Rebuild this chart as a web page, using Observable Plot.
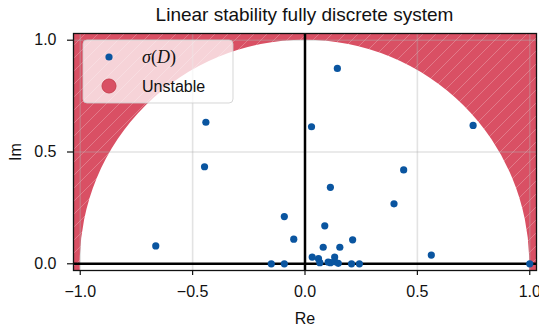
<!DOCTYPE html>
<html><head><meta charset="utf-8">
<script src="https://cdn.jsdelivr.net/npm/d3@7"></script>
<script src="https://cdn.jsdelivr.net/npm/@observablehq/plot@0.6"></script>
<style>
body{margin:0;background:#fff;font-family:"Liberation Sans",Arial,sans-serif;}
#title{height:28px;width:463px;padding-left:73px;text-align:center;font-size:19px;line-height:30px;color:#111;}
</style></head><body>
<div id="title">Linear stability fully discrete system</div>
<div id="chart"></div>
<script>
// Eigenvalues sigma(D): real and imaginary parts
const reVals = [-0.664, -0.447, -0.441, -0.150, -0.092, -0.092, -0.050, 0.029, 0.144, 0.113,
                0.088, 0.081, 0.155, 0.212, 0.396, 0.439, 0.748, 0.562, 1.000, 0.032,
                0.060, 0.066, 0.103, 0.113, 0.132, 0.132, 0.148, 0.207, 0.242];
const imVals = [0.080, 0.434, 0.633, 0.000, 0.000, 0.211, 0.110, 0.613, 0.874, 0.342,
                0.170, 0.074, 0.074, 0.107, 0.268, 0.420, 0.619, 0.039, 0.000, 0.030,
                0.023, 0.005, 0.008, 0.005, 0.030, 0.010, 0.002, 0.000, 0.000];
const xTicks = [-1, -0.5, 0, 0.5, 1];
const yTicks = [0, 0.5, 1];
const legendLabels = ["σ(D)", "Unstable"];

const RED = "#d95064";
const BLUE = "#0a55a0";
const fmt = d => d.toFixed(1).replace("-", "\u2212");

function unstableRegion(index, scales, values, dims) {
  const {x, y} = scales;
  const g = d3.create("svg:g");
  const defs = g.append("defs");
  const pat = defs.append("pattern")
    .attr("id", "hatch").attr("patternUnits", "userSpaceOnUse")
    .attr("width", 13).attr("height", 13);
  pat.append("rect").attr("width", 13).attr("height", 13).attr("fill", RED);
  pat.append("path").attr("d", "M-1,14 L14,-1 M-4,4 L4,-4 M9,17 L17,9")
    .attr("stroke", "white").attr("stroke-opacity", 0.3).attr("stroke-width", 0.8);
  const x0 = dims.marginLeft, x1 = dims.width - dims.marginRight;
  const y0 = dims.marginTop, y1 = dims.height - dims.marginBottom;
  defs.append("clipPath").attr("id", "frameclip").append("rect")
    .attr("x", x0).attr("y", y0).attr("width", x1 - x0).attr("height", y1 - y0);
  const cx = x(0), cy = y(0), rx = x(1) - x(0), ry = y(0) - y(1);
  const d = `M${x0},${y0}H${x1}V${y1}H${x0}Z M${cx - rx},${cy} A${rx},${ry} 0 0 1 ${cx + rx},${cy} A${rx},${ry} 0 0 1 ${cx - rx},${cy}Z`;
  g.append("path").attr("d", d).attr("fill", "url(#hatch)").attr("fill-rule", "evenodd")
    .attr("clip-path", "url(#frameclip)");
  return g.node();
}

function legend(index, scales, values, dims) {
  const g = d3.create("svg:g").attr("text-anchor", "start");
  const lx = dims.marginLeft + 10, ly = dims.marginTop + 7;
  g.append("rect").attr("x", lx).attr("y", ly).attr("width", 150).attr("height", 63)
    .attr("rx", 4).attr("fill", "white").attr("fill-opacity", 0.75)
    .attr("stroke", "#cccccc").attr("stroke-opacity", 0.8);
  g.append("circle").attr("cx", lx + 26).attr("cy", ly + 17).attr("r", 3.6).attr("fill", BLUE);
  g.append("circle").attr("cx", lx + 26).attr("cy", ly + 46).attr("r", 7)
    .attr("fill", RED).attr("stroke", "#c8404f").attr("stroke-width", 1);
  const t1 = g.append("text").attr("x", lx + 59).attr("y", ly + 17).attr("dy", "0.35em")
    .attr("font-size", 18).attr("font-family", "'Liberation Serif', serif").attr("fill", "#111");
  const parts = legendLabels[0].match(/^(.)(\()(.)(\))$/);
  t1.append("tspan").attr("font-style", "italic").text(parts[1]);
  t1.append("tspan").text(parts[2]);
  t1.append("tspan").attr("font-style", "italic").text(parts[3]);
  t1.append("tspan").text(parts[4]);
  g.append("text").attr("x", lx + 59).attr("y", ly + 46).attr("dy", "0.35em")
    .attr("font-size", 16).attr("fill", "#111").text(legendLabels[1]);
  return g.node();
}

const n = reVals.length;
const chart = Plot.plot({
  width: 539,
  height: 300,
  marginLeft: 73,
  marginRight: 3,
  marginTop: 5,
  marginBottom: 58,
  style: {fontFamily: "'Liberation Sans', Arial, sans-serif", fontSize: "16px", color: "#111", background: "white"},
  x: {domain: [-1.03, 1.03]},
  y: {domain: [-0.03, 1.03]},
  marks: [
    unstableRegion,
    Plot.gridX(xTicks, {stroke: "#b0b0b0", strokeOpacity: 0.35, strokeWidth: 1.6}),
    Plot.gridY(yTicks, {stroke: "#b0b0b0", strokeOpacity: 0.35, strokeWidth: 1.6}),
    Plot.ruleY([0], {stroke: "black", strokeWidth: 2.5}),
    Plot.ruleX([0], {stroke: "black", strokeWidth: 2.5}),
    Plot.dot({length: n}, {x: reVals, y: imVals, r: 3.6, fill: BLUE, stroke: null}),
    Plot.axisX(xTicks, {tickFormat: fmt, tickSize: 5, tickPadding: 10, strokeWidth: 1.2,
      label: "Re", labelAnchor: "center", labelArrow: "none", labelOffset: 53, fontSize: 16}),
    Plot.axisY(yTicks, {tickFormat: fmt, tickSize: 6, tickPadding: 11, strokeWidth: 1.2,
      label: "Im", labelAnchor: "center", labelArrow: "none", labelOffset: 64, fontSize: 16}),
    legend,
    Plot.frame({stroke: "#111", strokeWidth: 1.3})
  ]
});
document.getElementById("chart").appendChild(chart);
</script>
</body></html>
